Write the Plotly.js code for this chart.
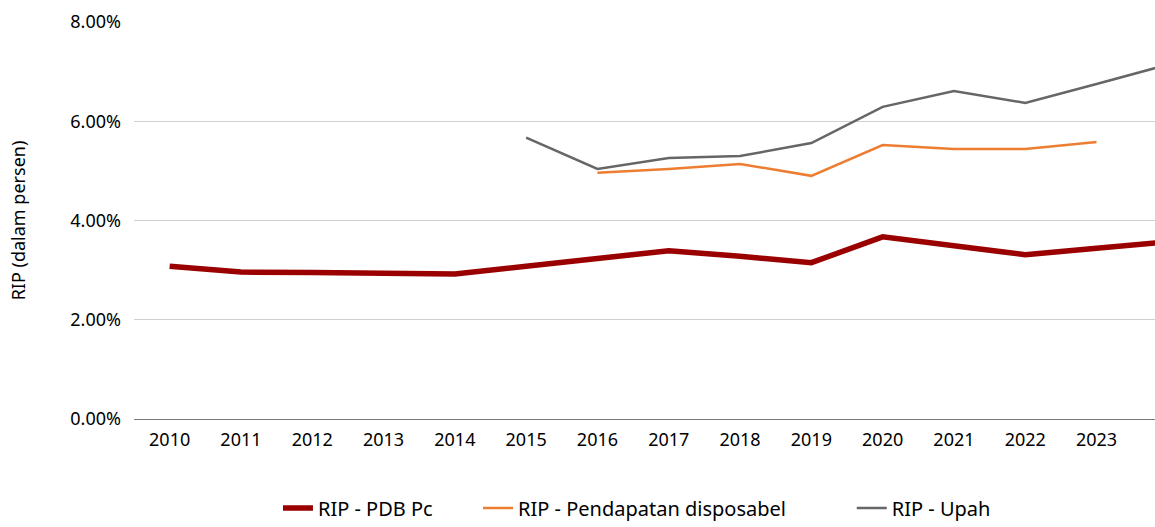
<!DOCTYPE html>
<html>
<head>
<meta charset="utf-8">
<script src="https://cdn.plot.ly/plotly-3.0.1.min.js"></script>
<style>
  body { margin: 0; background: #fff; }
  #grafik { width: 1155px; height: 527px; }
</style>
</head>
<body>
<div id="grafik"></div>
<script>
// tahun (2024 hanya terlihat sebagian di tepi kanan)
let tahun = ['2010','2011','2012','2013','2014','2015','2016','2017','2018','2019','2020','2021','2022','2023','2024'];
let ripPdbPc = [3.08, 2.96, 2.95, 2.94, 2.92, 3.08, 3.24, 3.39, 3.28, 3.15, 3.67, 3.48, 3.31, 3.44, 3.57];

let tahunDisposabel = ['2016','2017','2018','2019','2020','2021','2022','2023'];
let ripDisposabel = [4.96, 5.04, 5.14, 4.90, 5.52, 5.44, 5.44, 5.58];

let tahunUpah = ['2015','2016','2017','2018','2019','2020','2021','2022','2023','2024'];
let ripUpah = [5.67, 5.04, 5.26, 5.30, 5.56, 6.29, 6.61, 6.37, 6.75, 7.14];

let garisPdb = {
	x: tahun,
	y: ripPdbPc,
	name: 'RIP - PDB Pc',
	type: 'scatter',
	mode: 'lines',
	line: {color: '#9a0000', width: 5.5},
	legend: 'legend'
};
let garisDisposabel = {
	x: tahunDisposabel,
	y: ripDisposabel,
	name: 'RIP - Pendapatan disposabel',
	type: 'scatter',
	mode: 'lines',
	line: {color: '#ed7d31', width: 2.5},
	legend: 'legend2'
};
let garisUpah = {
	x: tahunUpah,
	y: ripUpah,
	name: 'RIP - Upah',
	type: 'scatter',
	mode: 'lines',
	line: {color: '#666666', width: 2.5},
	legend: 'legend3'
};

// satu legenda per seri supaya jaraknya mirip aslinya
let gayaLegenda = function (posX) {
	return {
		orientation: 'h',
		x: posX,
		xanchor: 'left',
		y: -0.175,
		yanchor: 'top',
		font: {size: 20},
		itemwidth: 30,
		maxheight: 80,
		bgcolor: 'rgba(0,0,0,0)'
	};
};

let layout = {
	width: 1155,
	height: 527,
	margin: {l: 134, r: 0, t: 22, b: 108, autoexpand: false},
	paper_bgcolor: '#ffffff',
	plot_bgcolor: '#ffffff',
	font: {family: 'Noto Sans, Open Sans, sans-serif', size: 18, color: '#000000'},
	xaxis: {
		type: 'category',
		categoryorder: 'array',
		categoryarray: tahun,
		range: [-0.5, 13.82],
		showgrid: false,
		showline: true,
		linecolor: '#7a7a7a',
		linewidth: 1.3,
		ticks: '',
		ticklabelstandoff: 4,
		tickfont: {size: 18}
	},
	yaxis: {
		range: [0, 8],
		dtick: 2,
		tickformat: '.2f',
		ticksuffix: '%',
		showgrid: true,
		gridcolor: '#d0d0d0',
		gridwidth: 1,
		zeroline: false,
		ticks: '',
		ticklabelstandoff: 12,
		tickfont: {size: 18},
		title: {text: 'RIP (dalam persen)', font: {size: 18}, standoff: 40}
	},
	showlegend: true,
	legend: gayaLegenda(0.141),
	legend2: gayaLegenda(0.337),
	legend3: gayaLegenda(0.703)
};

Plotly.newPlot(document.getElementById('grafik'), [garisPdb, garisDisposabel, garisUpah], layout, {displayModeBar: false, staticPlot: true});
</script>
</body>
</html>
